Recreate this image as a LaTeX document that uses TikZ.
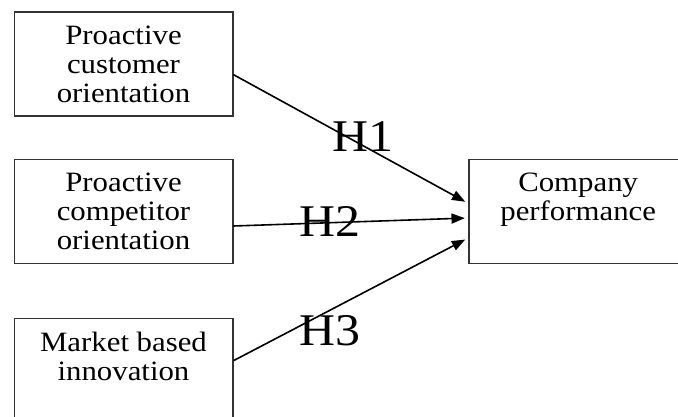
\documentclass[tikz,border=0pt]{standalone}
\usepackage{fontspec}
\setmainfont[FakeStretch=1.1]{Liberation Serif}
\usepackage{tikz}
\usetikzlibrary{arrows.meta, positioning}

\begin{document}
\begin{tikzpicture}[
  x=0.75pt, y=-0.75pt,
  box/.style={rectangle, draw=black!80, line width=1pt, minimum width=164pt,
    minimum height=78pt, inner sep=2pt, align=center,
    font=\fontsize{21}{21.75}\selectfont},
  hyp/.style={font=\fontsize{34}{36}\selectfont, inner sep=0pt},
  link/.style={line width=1.2pt, -{Triangle[length=10pt, width=7.5pt]}, shorten >=2.5pt},
  node distance=0.35cm,
]
  \useasboundingbox (0,0) rectangle (678,417);
  \node[box] (b1) at (123.5,64) {Proactive\\customer\\orientation};
  \node[box, below=31.5pt of b1] (b2) {Proactive\\competitor\\orientation};
  \node[box, below=40.5pt of b2] (b3) {Market based\\innovation\\\mbox{}};
  \node[box, right=176pt of b2] (cp) {Company\\performance\\\mbox{}};
  \draw[link] ([yshift=-8pt]b1.east) -- node[hyp, pos=0.55, yshift=7pt] {H1} ([yshift=6pt]cp.west);
  \draw[link] ([yshift=-11pt]b2.east) -- node[hyp, pos=0.41, yshift=1pt] {H2} ([yshift=-5pt]cp.west);
  \draw[link] ([yshift=7.5pt]b3.east) -- node[hyp, pos=0.41, yshift=-15pt] {H3} ([yshift=-20pt]cp.west);
\end{tikzpicture}
\end{document}
